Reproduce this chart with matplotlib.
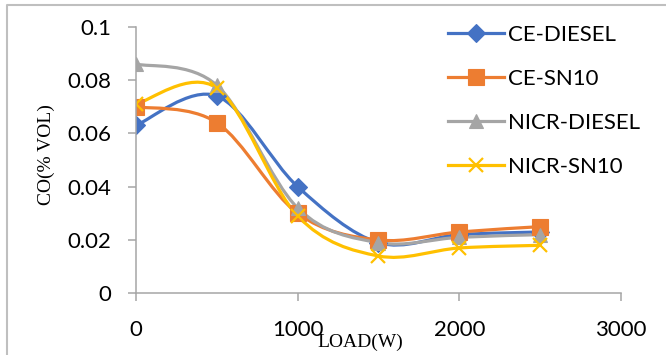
import numpy as np
import matplotlib
matplotlib.use("Agg")
from matplotlib import pyplot as plt
from matplotlib.path import Path
from matplotlib.patches import PathPatch
from matplotlib.lines import Line2D

# data
load = [0, 500, 1000, 1500, 2000, 2500]
ce_diesel = [0.063, 0.074, 0.040, 0.019, 0.022, 0.023]
ce_sn10 = [0.070, 0.064, 0.030, 0.020, 0.023, 0.025]
nicr_diesel = [0.086, 0.078, 0.032, 0.019, 0.021, 0.022]
nicr_sn10 = [0.071, 0.077, 0.029, 0.014, 0.017, 0.018]

series = [
    ("CE-DIESEL", ce_diesel, "#4472C4", "D", 9.5),
    ("CE-SN10", ce_sn10, "#ED7D31", "s", 11),
    ("NICR-DIESEL", nicr_diesel, "#A5A5A5", "^", 10.5),
    ("NICR-SN10", nicr_sn10, "#FFC000", "x", 10.5),
]


def smooth_path(xs, ys):
    # excel-like smoothed line: cubic bezier through the points
    p = np.column_stack([xs, ys]).astype(float)
    n = len(p)
    verts = [p[0]]
    codes = [Path.MOVETO]
    for i in range(n - 1):
        p0 = p[max(i - 1, 0)]
        p1 = p[i]
        p2 = p[i + 1]
        p3 = p[min(i + 2, n - 1)]
        c1 = p1 + (p2 - p0) / 6.0
        c2 = p2 - (p3 - p1) / 6.0
        verts += [c1, c2, p2]
        codes += [Path.CURVE4] * 3
    return Path(verts, codes)


fig = plt.figure(figsize=(6.66, 3.55), dpi=100)
ax = fig.add_axes([0.2042, 0.1738, 0.7282, 0.751])

handles = []
for name, vals, col, mk, ms in series:
    ax.add_patch(PathPatch(smooth_path(load, vals), fill=False, edgecolor=col,
                           lw=2.3, capstyle="round", joinstyle="round"))
    mew = 1.6 if mk == "x" else 0.8
    ax.plot(load, vals, linestyle="none", marker=mk, markersize=ms, color=col,
            markeredgewidth=mew)
    handles.append(Line2D([], [], color=col, lw=2.3, marker=mk, markersize=ms,
                          markeredgewidth=mew))

ax.set_xlim(0, 3000)
ax.set_ylim(0, 0.1)
ax.set_xticks([0, 1000, 2000, 3000])
ax.set_yticks([0, 0.02, 0.04, 0.06, 0.08, 0.1])
ax.set_yticklabels(["0", "0.02", "0.04", "0.06", "0.08", "0.1"])

for s in ["top", "right"]:
    ax.spines[s].set_visible(False)
for s in ["left", "bottom"]:
    ax.spines[s].set_color("#A6A6A6")
    ax.spines[s].set_linewidth(1.1)
ax.tick_params(colors="#A6A6A6", length=6, width=1.1, labelcolor="black",
               labelsize=16)
ax.tick_params(axis="y", pad=12)
ax.tick_params(axis="x", pad=13)
for lab in ax.get_xticklabels() + ax.get_yticklabels():
    lab.set_family("Lato")

fig.text(360 / 666, 1 - 342 / 355, "LOAD(W)", family="Liberation Serif",
         fontsize=14, ha="center", va="center")
fig.text(46 / 666, 1 - 155 / 355, "CO(% VOL)", family="Liberation Serif",
         fontsize=14, ha="center", va="center", rotation=90)

fig.legend(handles, [s[0] for s in series], loc="upper left",
           bbox_to_anchor=(448 / 666, 1 - 25 / 355), frameon=False,
           prop={"family": "Lato", "size": 16}, handlelength=2.5,
           handletextpad=0.2, labelspacing=1.08, borderpad=0, borderaxespad=0)

# chart area border
fig.add_artist(Line2D([7 / 666, 7 / 666, 1.0], [0.0, 1 - 5 / 355, 1 - 5 / 355],
                      transform=fig.transFigure, color="#BFBFBF", lw=1.5))

fig.savefig("out.png", dpi=100)
